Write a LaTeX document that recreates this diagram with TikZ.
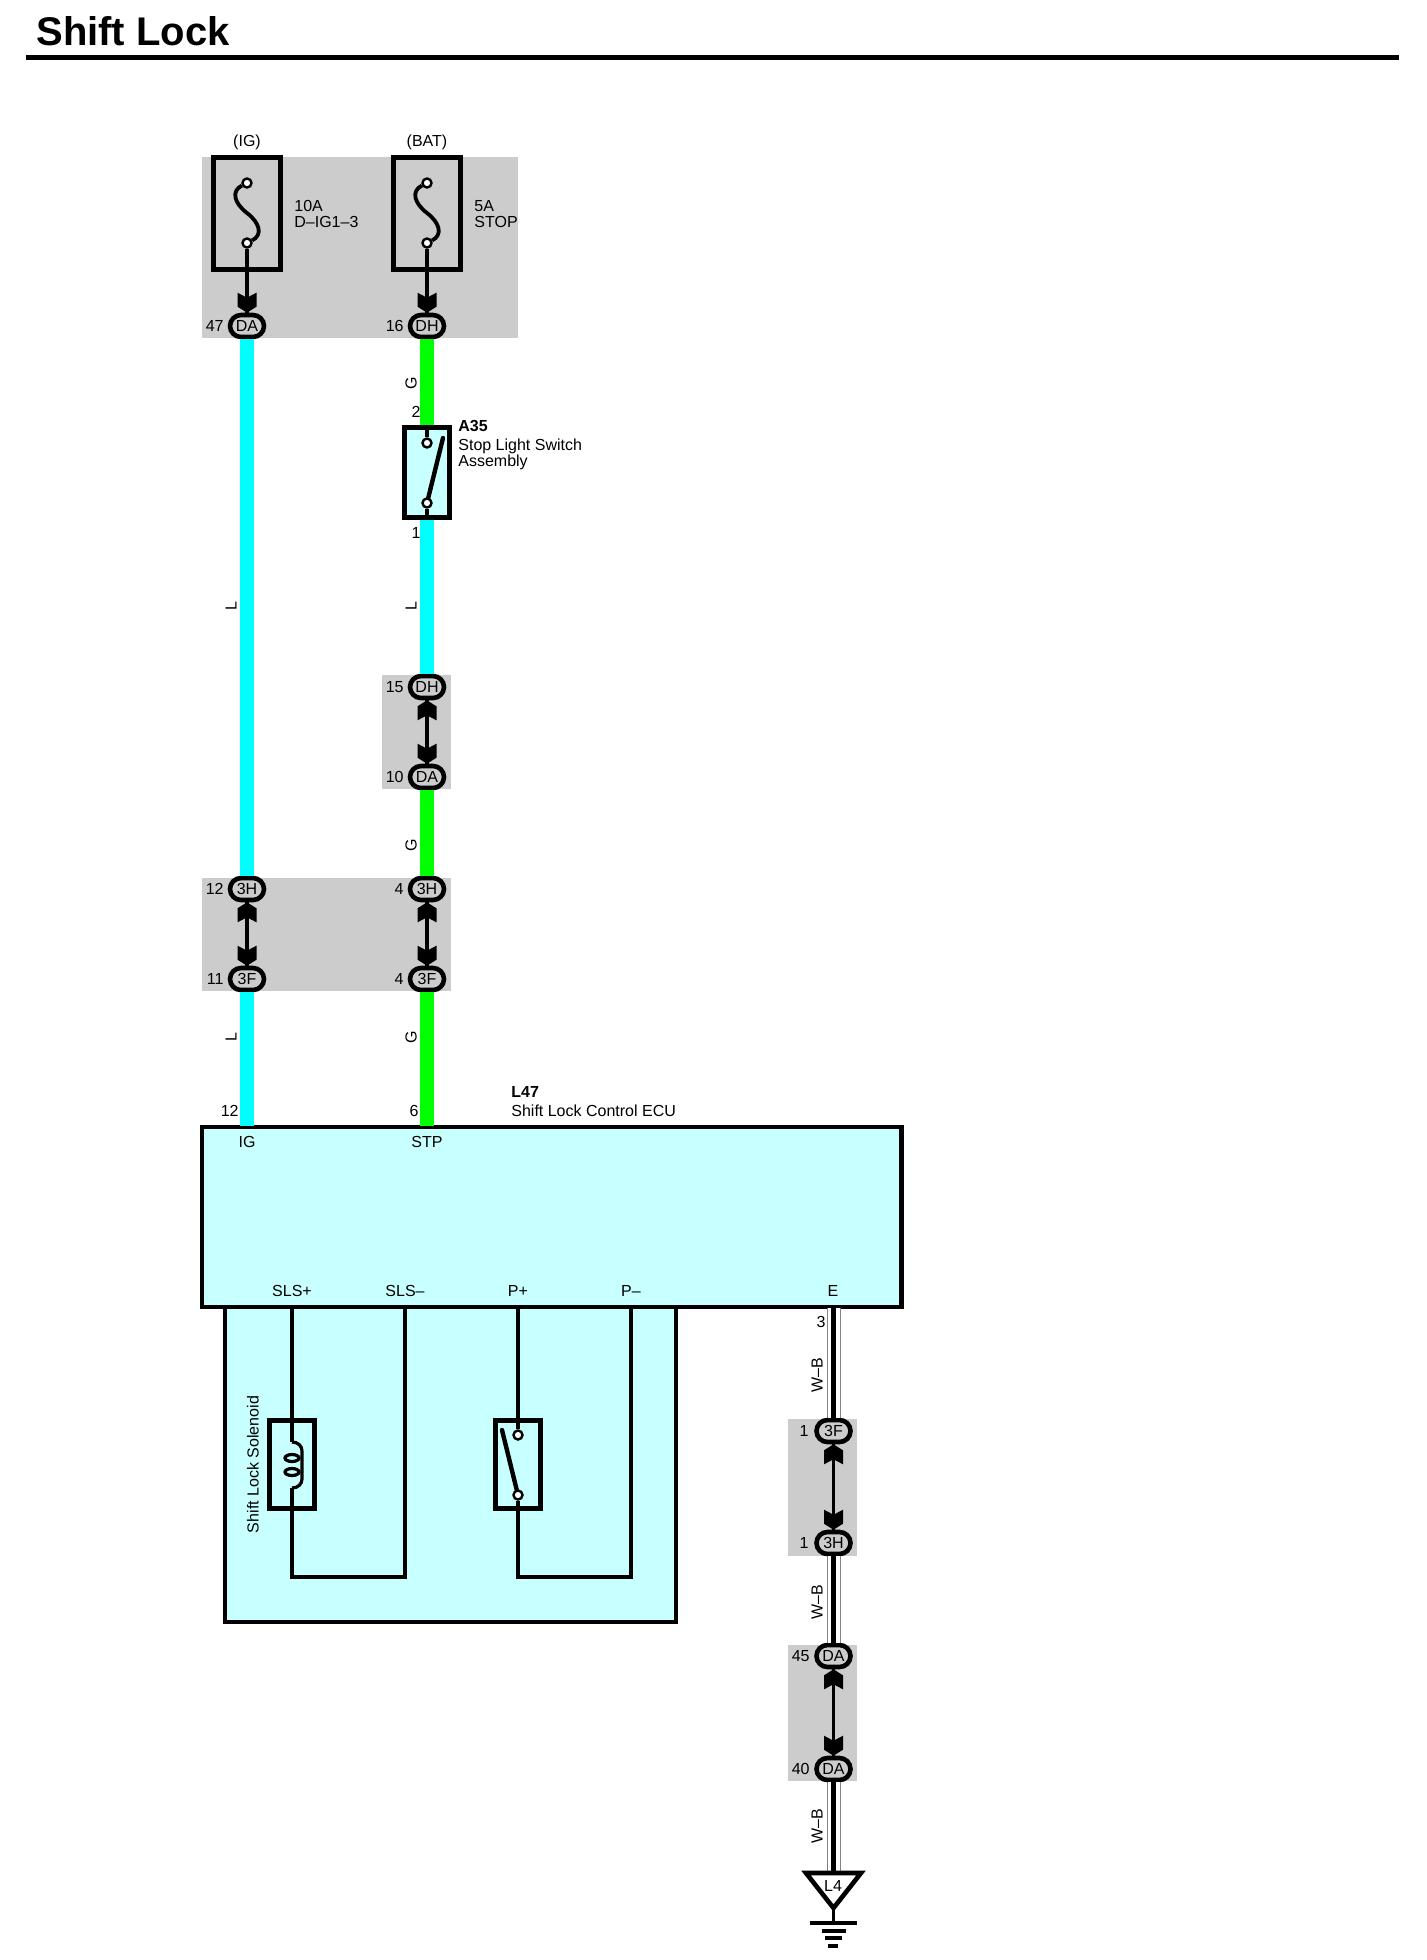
\documentclass[tikz,border=0pt]{standalone}
\usepackage{fontspec}
\setmainfont{Liberation Sans}
\definecolor{cyanwire}{RGB}{0,255,255}
\definecolor{greenwire}{RGB}{0,255,0}
\definecolor{ecufill}{RGB}{200,255,255}
\definecolor{blockgray}{RGB}{204,204,204}
\definecolor{wbgray}{RGB}{130,130,130}
\tikzset{
  lab/.style={inner sep=0pt,font=\fontsize{8}{8}\selectfont,align=left},
  conn/.style={draw,rectangle,rounded corners=5.5pt,line width=2.3pt,fill=blockgray,minimum width=17pt,minimum height=11pt,inner sep=0pt,font=\fontsize{8}{8}\selectfont},
  term/.style={draw,circle,line width=1.2pt,fill=white,minimum size=4.5pt,inner sep=0pt},
  fusebox/.style={draw,rectangle,line width=2.3pt,minimum width=33.5pt,minimum height=56pt,inner sep=0pt},
  partbox/.style={draw,rectangle,line width=2.3pt,fill=ecufill,minimum width=22.5pt,minimum height=45pt,inner sep=0pt},
  ecubox/.style={draw,rectangle,line width=2.2pt,fill=ecufill,inner sep=0pt},
  wirecyan/.style={draw=cyanwire,line width=7pt},
  wiregreen/.style={draw=greenwire,line width=7pt},
  wirewb/.style={draw=wbgray,line width=7pt,postaction={draw=white,line width=6pt},postaction={draw=black,line width=2.2pt}},
  thin wire/.style={draw=black,line width=1.6pt},
  chevdn/.pic={\fill [black] (0,0) -- (9.5,-6) -- (9.5,-20) -- (0,-15) -- (-9.5,-20) -- (-9.5,-6) -- cycle;},
  chevup/.pic={\fill [black] (0,0) -- (9.5,6) -- (9.5,20) -- (0,15) -- (-9.5,20) -- (-9.5,6) -- cycle;}
}
\begin{document}
\begin{tikzpicture}[x=0.5pt,y=-0.5pt]
\useasboundingbox (0,0) rectangle (1427,1960);

% title
\node [inner sep=0pt,anchor=base west,font=\fontsize{20}{20}\selectfont\bfseries] (title) at (36,45) {Shift Lock};
\fill [black] (26,54.5) rectangle (1399,59.5);

% gray blocks
\fill [blockgray] (202,157) rectangle (518,338);
\fill [blockgray] (382,675) rectangle (451,789);
\fill [blockgray] (202,878) rectangle (451,991);
\fill [blockgray] (788,1419) rectangle (857,1556);
\fill [blockgray] (788,1645) rectangle (857,1781);

% fuses
\node [fusebox] (fuse1) at (247,213.5) {};
\node [fusebox] (fuse2) at (427,213.5) {};
\node [term] (f1a) at (247,183) {};
\node [term] (f1b) at (247,243) {};
\node [term] (f2a) at (427,183) {};
\node [term] (f2b) at (427,243) {};
\node [lab] (ig) at (247,142) {(IG)};
\node [lab] (bat) at (427,142) {(BAT)};
\node [lab,anchor=west] (f1lab) at (294,214) {10A\\D--IG1--3};
\node [lab,anchor=west] (f2lab) at (474,214) {5A\\STOP};

% connectors
\node [conn] (da47) at (247,326) {DA};
\node [conn] (dh16) at (427,326) {DH};
\node [conn] (dh15) at (427,687) {DH};
\node [conn] (da10) at (427,777) {DA};
\node [conn] (h12) at (247,889) {3H};
\node [conn] (h4) at (427,889) {3H};
\node [conn] (f11) at (247,979) {3F};
\node [conn] (f4) at (427,979) {3F};
\node [conn] (f1) at (833.5,1431) {3F};
\node [conn] (h1) at (833.5,1543) {3H};
\node [conn] (da45) at (833.5,1656) {DA};
\node [conn] (da40) at (833.5,1769) {DA};
\node [lab,anchor=east] (n47) at (224,326) {47};
\node [lab,anchor=east] (n16) at (404,326) {16};
\node [lab,anchor=east] (n15) at (404,687) {15};
\node [lab,anchor=east] (n10) at (404,777) {10};
\node [lab,anchor=east] (n12) at (224,889) {12};
\node [lab,anchor=east] (n4a) at (404,889) {4};
\node [lab,anchor=east] (n11) at (224,979) {11};
\node [lab,anchor=east] (n4b) at (404,979) {4};
\node [lab,anchor=east] (n1a) at (809,1431) {1};
\node [lab,anchor=east] (n1b) at (809,1543) {1};
\node [lab,anchor=east] (n45) at (810,1656) {45};
\node [lab,anchor=east] (n40) at (810,1769) {40};

% stop light switch
\node [partbox] (a35) at (427,472.5) {};
\node [term] (a35a) at (427,443) {};
\node [term] (a35b) at (427,503) {};
\coordinate (a35c) at (443,438);
\draw [thin wire] (a35) ++(0,-44.5) -- (a35a);
\draw [thin wire] (a35) ++(0,44.5) -- (a35b);
\draw [thin wire,line width=2.2pt,line cap=round] (a35b) -- (a35c);
\node [lab,anchor=west,font=\fontsize{8}{8}\selectfont\bfseries] (a35id) at (458,426) {A35};
\node [lab,anchor=west] (a35name) at (458,454) {Stop Light Switch\\Assembly};
\node [lab] (pin2) at (416,412) {2};
\node [lab] (pin1) at (416,533) {1};

% ecu and the box under it
\node [ecubox,minimum width=225.5pt,minimum height=158pt] (lock) at (450.5,1464) {};
\node [ecubox,minimum width=349.75pt,minimum height=90pt] (ecu) at (551.75,1217) {};
\node [lab,anchor=west,font=\fontsize{8}{8}\selectfont\bfseries] (l47) at (511,1092) {L47};
\node [lab,anchor=west] (l47name) at (511,1111) {Shift Lock Control ECU};
\node [lab,anchor=east] (pin12) at (239,1111) {12};
\node [lab,anchor=east] (pin6) at (419,1111) {6};
\node [lab] (pig) at (247,1142) {IG};
\node [lab] (pstp) at (427,1142) {STP};
\node [lab] (pslsa) at (292,1291) {SLS+};
\node [lab] (pslsb) at (405,1291) {SLS--};
\node [lab] (ppa) at (518,1291) {P+};
\node [lab] (ppb) at (631,1291) {P--};
\node [lab] (pe) at (833,1291) {E};
\coordinate (eig) at (247,1126);
\coordinate (estp) at (427,1126);
\coordinate (ee) at (833.5,1308);
\coordinate (eslsa) at (292,1308);
\coordinate (eslsb) at (405,1308);
\coordinate (epa) at (518,1308);
\coordinate (epb) at (631,1308);

% colored wires
\draw [wirecyan] (da47) edge (h12);
\draw [wirecyan] (f11) edge (eig);
\draw [wiregreen] (dh16) edge (a35);
\draw [wirecyan] (a35) edge (dh15);
\draw [wiregreen] (da10) edge (h4);
\draw [wiregreen] (f4) edge (estp);
\node [lab,rotate=90] (wl1) at (231,606) {L};
\node [lab,rotate=90] (wl2) at (231,1037) {L};
\node [lab,rotate=90] (wl3) at (411,606) {L};
\node [lab,rotate=90] (wg1) at (411,383) {G};
\node [lab,rotate=90] (wg2) at (411,845) {G};
\node [lab,rotate=90] (wg3) at (411,1037) {G};

% links in the gray blocks
\draw [thin wire] (f1b) edge (da47);
\draw [thin wire] (f2b) edge (dh16);
\draw [thin wire] (dh15) edge (da10);
\draw [thin wire] (h12) edge (f11);
\draw [thin wire] (h4) edge (f4);
\draw [thin wire] (f1) edge (h1);
\draw [thin wire] (da45) edge (da40);
\pic at (da47.north) {chevdn};
\pic at (dh16.north) {chevdn};
\pic at (dh15.south) {chevup};
\pic at (da10.north) {chevdn};
\pic at (h12.south) {chevup};
\pic at (h4.south) {chevup};
\pic at (f11.north) {chevdn};
\pic at (f4.north) {chevdn};
\pic at (f1.south) {chevup};
\pic at (h1.north) {chevdn};
\pic at (da45.south) {chevup};
\pic at (da40.north) {chevdn};

% fuse elements
\draw [thin wire,line width=1.9pt] (f1a) .. controls (231,191) and (234,203) .. (247,213) .. controls (260,223) and (263,235) .. (f1b);
\draw [thin wire,line width=1.9pt] (f2a) .. controls (411,191) and (414,203) .. (427,213) .. controls (440,223) and (443,235) .. (f2b);

% solenoid
\node [partbox,minimum height=44pt] (sol) at (292,1464.5) {};
\coordinate (solt) at (292,1442);
\coordinate (solb) at (292,1488);
\coordinate (solr) at (292,1577);
\coordinate (solq) at (405,1577);
\draw [thin wire] (eslsa) -- (solt);
\draw [thin wire] (solt) .. controls (298,1442) and (302,1446) .. (302,1451) -- (302,1479) .. controls (302,1484) and (298,1488) .. (solb);
\draw [thin wire] (292,1458) ellipse [x radius=7,y radius=3.5];
\draw [thin wire] (292,1472) ellipse [x radius=7,y radius=3.5];
\draw [thin wire] (solb) -- (solr) -- (solq) -- (eslsb);
\node [lab,rotate=90] (solname) at (253,1464.5) {Shift Lock Solenoid};

% position switch
\node [partbox,minimum height=44pt] (psw) at (518,1464.5) {};
\node [term] (pswa) at (518,1435) {};
\node [term] (pswb) at (518,1495) {};
\coordinate (pswc) at (502,1430);
\coordinate (pswr) at (518,1577);
\coordinate (pswq) at (631,1577);
\draw [thin wire] (epa) -- (pswa);
\draw [thin wire,line width=2.2pt,line cap=round] (pswb) -- (pswc);
\draw [thin wire] (pswb) -- (pswr) -- (pswq) -- (epb);

% ground wire
\coordinate (gndtop) at (833.5,1873);
\draw (ee) edge [wirewb] (f1);
\draw (h1) edge [wirewb] (da45);
\draw (da40) edge [wirewb] (gndtop);
\node [lab] (pin3) at (821,1322) {3};
\node [lab,rotate=90] (wb1) at (817,1375) {W--B};
\node [lab,rotate=90] (wb2) at (817,1602) {W--B};
\node [lab,rotate=90] (wb3) at (817,1826) {W--B};
\draw [line width=2.3pt,fill=white,line join=miter] (806,1873) -- (861,1873) -- (833.5,1908) -- cycle;
\node [lab] (l4) at (833,1886) {L4};
\coordinate (gndtip) at (833.5,1908);
\coordinate (gndbar) at (833.5,1923);
\draw [thin wire] (gndtip) -- (gndbar);
\draw [thin wire] (810,1923) -- (857,1923);
\draw [thin wire] (822,1931) -- (846,1931);
\draw [thin wire] (825,1938) -- (842,1938);
\draw [thin wire] (828,1946) -- (838,1946);
\end{tikzpicture}
\end{document}
